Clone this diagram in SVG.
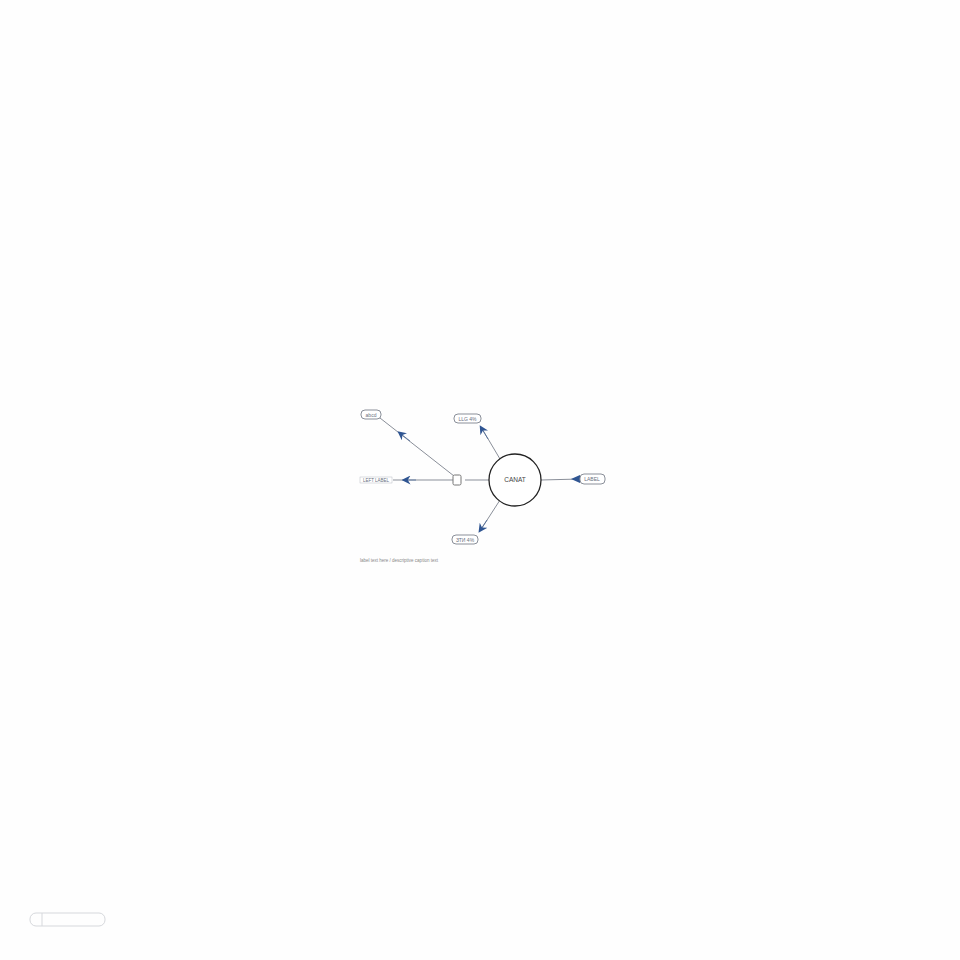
<svg xmlns="http://www.w3.org/2000/svg" width="960" height="960" viewBox="0 0 960 960">
<defs>
<style>
.pill{fill:#fff;stroke:#8a8f99;stroke-width:1}
.t{font-family:"Liberation Sans",Arial,sans-serif;font-size:5px;fill:#6a7080;text-anchor:middle}
.ln{stroke:#8a8f99;stroke-width:1;fill:none}
.bl{stroke:#4a6a9a;stroke-width:0.8;fill:none}
</style>
<marker id="ah" viewBox="0 0 10 10" refX="5" refY="5" markerWidth="9" markerHeight="9" orient="auto" markerUnits="userSpaceOnUse">
<path d="M0,0 L10,5 L0,10 L3,5 Z" fill="#2f5592"/>
</marker>
</defs>
<rect width="960" height="960" fill="#fefefe"/>
<g id="connectors">
<line class="ln" x1="465" y1="480" x2="489" y2="480"/>
<line class="ln" x1="454" y1="476" x2="380" y2="418"/>
<line class="bl" x1="410" y1="441" x2="401" y2="434" marker-end="url(#ah)"/>
<line class="ln" x1="453" y1="480" x2="393" y2="480"/>
<line class="bl" x1="416" y1="480" x2="406" y2="480" marker-end="url(#ah)"/>
<line class="ln" x1="500" y1="459" x2="481" y2="427"/>
<line class="bl" x1="488" y1="439" x2="482" y2="429" marker-end="url(#ah)"/>
<line class="ln" x1="500" y1="500" x2="480" y2="531"/>
<line class="bl" x1="487" y1="520" x2="481" y2="529" marker-end="url(#ah)"/>
<line class="ln" x1="541" y1="480" x2="580" y2="479"/>
<path d="M571,479 L580,475 L580,483 Z" fill="#2f5592"/>
</g>
<g id="center">
<circle cx="515" cy="480" r="26" fill="#fff" stroke="#222" stroke-width="1.3"/>
<text x="515" y="482" class="t" style="font-size:6.5px;fill:#444">CANAT</text>
</g>
<g id="junction">
<rect x="453" y="475" width="8" height="10" rx="1.5" fill="#fff" stroke="#777" stroke-width="1"/>
</g>
<g id="node-ul">
<rect class="pill" x="361" y="410" width="20" height="9" rx="4"/>
<text x="371" y="416.5" class="t">abcd</text>
</g>
<g id="node-top">
<rect class="pill" x="454" y="414" width="27" height="9" rx="4"/>
<text x="467.5" y="420.5" class="t">LLG 4%</text>
</g>
<g id="node-right">
<rect class="pill" x="580" y="474" width="25" height="10" rx="4"/>
<text x="592" y="481" class="t">LABEL</text>
</g>
<g id="node-left">
<rect x="360" y="477" width="32" height="6" fill="#fff" stroke="#b8bcc4" stroke-width="0.5"/>
<text x="376" y="482" class="t" style="font-size:4.5px">LEFT LABEL</text>
</g>
<g id="node-bottom">
<rect class="pill" x="452" y="535" width="26" height="9" rx="4"/>
<text x="465" y="541.5" class="t">ЗТИ 4%</text>
</g>
<g id="caption">
<text x="399" y="562" class="t" style="font-size:4.5px;fill:#888">label text here / descriptive caption text</text>
</g>
<g id="corner-icon">
<rect x="30" y="913" width="75" height="13" rx="6" fill="none" stroke="#d6d8dc" stroke-width="1"/>
<path d="M42,913 L42,926" stroke="#d6d8dc" stroke-width="1"/>
</g>
</svg>
